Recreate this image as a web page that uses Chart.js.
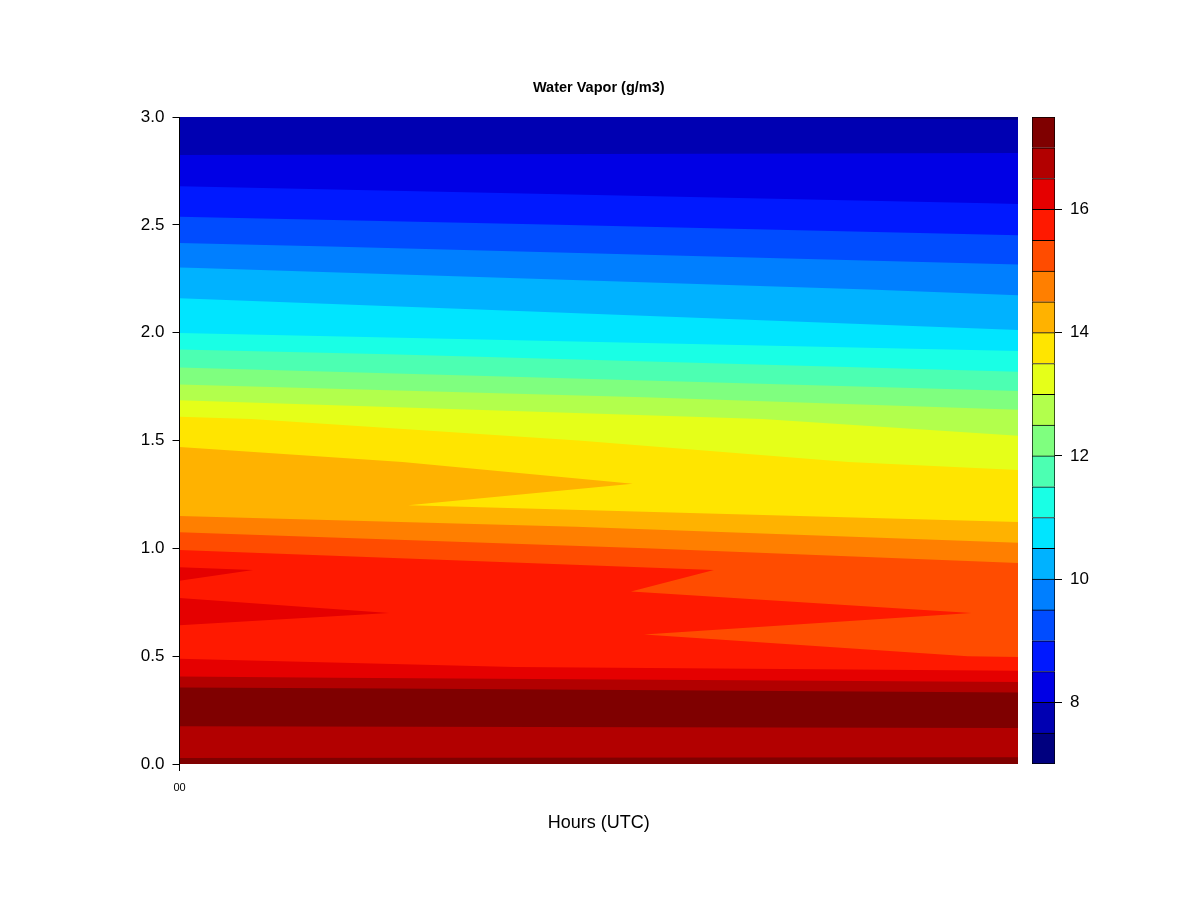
<!DOCTYPE html>
<html>
<head>
<meta charset="utf-8">
<title>Water Vapor (g/m3)</title>
<script src="https://cdn.jsdelivr.net/npm/chart.js@4.4.0/dist/chart.umd.min.js"></script>
<style>
    html, body { margin: 0; padding: 0; background: #fff; }
    #wrap { position: relative; width: 1200px; height: 900px; }
    #vapor { position: absolute; left: 0; top: 0; }
    #key { position: absolute; left: 1000px; top: 0; }
</style>
</head>
<body>
<div id="wrap">
    <canvas id="vapor" width="1200" height="900"></canvas>
    <canvas id="key" width="200" height="900"></canvas>
</div>
<script>
// --- Data ---
const chartTitle = 'Water Vapor (g/m3)';
const hoursUTC = [0, 1];
const xTickValues = [0];
const xTickLabels = ['00'];
const heightTicks = [0, 0.5, 1, 1.5, 2, 2.5, 3];

const heightsKm = [0, 0.05, 0.1, 0.15, 0.2, 0.25, 0.3, 0.35, 0.4, 0.45, 0.5,
    0.6, 0.7, 0.8, 0.9, 1.0, 1.1, 1.2, 1.3, 1.4, 1.5, 1.6, 1.7, 1.8, 1.9, 2.0,
    2.1, 2.2, 2.3, 2.4, 2.5, 2.6, 2.7, 2.8, 2.9, 3.0];

// water vapor density at the first and last profile
const vaporStart = [17.10, 16.92, 16.95, 16.96, 17.04, 17.15, 17.20, 17.05, 16.55, 16.10, 15.97,
    15.86, 16.18, 15.92, 16.08, 15.45, 14.85, 14.15, 14.20, 14.25, 13.89, 13.57, 12.91, 12.22, 11.64, 10.99,
    10.69, 10.37, 10.01, 9.57, 9.14, 8.77, 8.43, 8.08, 7.75, 7.60];
const vaporEnd = [17.10, 16.94, 16.90, 16.95, 17.10, 17.20, 17.25, 16.85, 16.28, 15.85, 15.47,
    15.21, 15.46, 15.14, 15.17, 14.64, 14.11, 13.60, 13.83, 13.31, 13.07, 12.75, 12.17, 11.60, 11.08, 10.54,
    10.22, 9.92, 9.56, 9.18, 8.83, 8.49, 8.28, 8.07, 7.86, 7.45];

const levels = [7.0, 7.5, 8.0, 8.5, 9.0, 9.5, 10.0, 10.5, 11.0, 11.5, 12.0,
    12.5, 13.0, 13.5, 14.0, 14.5, 15.0, 15.5, 16.0, 16.5, 17.0, 17.5];
const bandColors = ['#00007F', '#0000B2', '#0000E5', '#0019FF', '#004CFF', '#007FFF', '#00B2FF',
    '#00E5FF', '#19FFE5', '#4CFFB2', '#7FFF7F', '#B2FF4C', '#E5FF19', '#FFE500', '#FFB200',
    '#FF7F00', '#FF4C00', '#FF1900', '#E50000', '#B20000', '#7F0000'];
const keyTicks = [8, 10, 12, 14, 16];

const vaporGrid = [vaporStart, vaporEnd];

const FONT = "'Liberation Sans', Arial, sans-serif";
Chart.defaults.font.family = FONT;
Chart.defaults.color = '#000';

// part of one grid cell where value >= lo (values linear along the cell edges)
function cellPolygon(corners, lo) {
    const pts = [];
    for (let e = 0; e < 4; e++) {
        const a = corners[e], b = corners[(e + 1) % 4];
        if (a[2] >= lo) pts.push([a[0], a[1]]);
        if ((a[2] - lo) * (b[2] - lo) < 0) {
            const t = (lo - a[2]) / (b[2] - a[2]);
            pts.push([a[0] + t * (b[0] - a[0]), a[1] + t * (b[1] - a[1])]);
        }
    }
    return pts;
}

// paint each level over the previous one, so neighbouring bands leave no seams
const contourFill = {
    id: 'contourFill',
    beforeDatasetsDraw(chart) {
        const { ctx, chartArea, scales: { x, y } } = chart;
        ctx.save();
        ctx.beginPath();
        ctx.rect(chartArea.left, chartArea.top, chartArea.width, chartArea.height);
        ctx.clip();
        for (let k = 0; k < bandColors.length; k++) {
            ctx.beginPath();
            for (let i = 0; i < hoursUTC.length - 1; i++) {
                for (let j = 0; j < heightsKm.length - 1; j++) {
                    const corners = [
                        [hoursUTC[i], heightsKm[j], vaporGrid[i][j]],
                        [hoursUTC[i + 1], heightsKm[j], vaporGrid[i + 1][j]],
                        [hoursUTC[i + 1], heightsKm[j + 1], vaporGrid[i + 1][j + 1]],
                        [hoursUTC[i], heightsKm[j + 1], vaporGrid[i][j + 1]]
                    ];
                    const pts = cellPolygon(corners, levels[k]);
                    if (pts.length < 3) continue;
                    pts.forEach(([px, py], n) => {
                        const X = x.getPixelForValue(px), Y = y.getPixelForValue(py);
                        if (n) ctx.lineTo(X, Y); else ctx.moveTo(X, Y);
                    });
                    ctx.closePath();
                }
            }
            ctx.fillStyle = bandColors[k];
            ctx.fill('nonzero');
        }
        ctx.restore();
    }
};

const plotTitle = {
    id: 'plotTitle',
    afterDraw(chart) {
        const { ctx, chartArea } = chart;
        ctx.save();
        ctx.font = 'bold 14.5px ' + FONT;
        ctx.fillStyle = '#000';
        ctx.textAlign = 'center';
        ctx.textBaseline = 'middle';
        ctx.fillText(chartTitle, (chartArea.left + chartArea.right) / 2, 88);
        ctx.restore();
    }
};

new Chart(document.getElementById('vapor'), {
    type: 'scatter',
    data: { datasets: [{ data: [], pointRadius: 0 }] },
    options: {
        responsive: false,
        animation: false,
        layout: { padding: { left: 109.5, top: 117, right: 182, bottom: 56 } },
        plugins: {
            legend: { display: false },
            tooltip: { enabled: false }
        },
        scales: {
            x: {
                type: 'linear',
                min: hoursUTC[0],
                max: hoursUTC[hoursUTC.length - 1],
                afterBuildTicks: s => { s.ticks = xTickValues.map(v => ({ value: v })); },
                afterFit: s => { s.height = 80; },
                ticks: {
                    callback: (v, i) => xTickLabels[i],
                    font: { size: 11 },
                    padding: 10,
                    maxRotation: 0,
                    autoSkip: false
                },
                grid: { drawOnChartArea: false, tickLength: 7, color: '#000' },
                border: { display: false },
                title: {
                    display: true,
                    text: 'Hours (UTC)',
                    font: { size: 18 },
                    padding: { top: 0, bottom: 10 }
                }
            },
            y: {
                min: 0,
                max: 3,
                afterBuildTicks: s => { s.ticks = heightTicks.map(v => ({ value: v })); },
                afterFit: s => { s.width = 70; },
                ticks: {
                    callback: v => v.toFixed(1),
                    font: { size: 17 },
                    padding: 8
                },
                grid: { drawOnChartArea: false, tickLength: 7, color: '#000' },
                border: { display: true, color: '#000', z: 1 }
            }
        }
    },
    plugins: [contourFill, plotTitle]
});

// --- Colour key ---
new Chart(document.getElementById('key'), {
    type: 'bar',
    data: {
        labels: [''],
        datasets: bandColors.map((c, k) => ({
            data: [[levels[k], levels[k + 1]]],
            backgroundColor: c,
            borderColor: '#000',
            borderWidth: { top: 1, left: 1, right: 1, bottom: k === 0 ? 1 : 0 },
            borderSkipped: false,
            grouped: false,
            barPercentage: 1,
            categoryPercentage: 1
        }))
    },
    options: {
        responsive: false,
        animation: false,
        layout: { padding: { left: 32, top: 117, right: 0, bottom: 136 } },
        plugins: {
            legend: { display: false },
            tooltip: { enabled: false }
        },
        scales: {
            x: { display: false },
            y: {
                position: 'right',
                min: levels[0],
                max: levels[levels.length - 1],
                afterBuildTicks: s => { s.ticks = keyTicks.map(v => ({ value: v })); },
                afterFit: s => { s.width = 145; },
                ticks: { font: { size: 17 }, padding: 8 },
                grid: { drawOnChartArea: false, tickLength: 7, color: '#000' },
                border: { display: false }
            }
        }
    }
});
</script>
</body>
</html>
